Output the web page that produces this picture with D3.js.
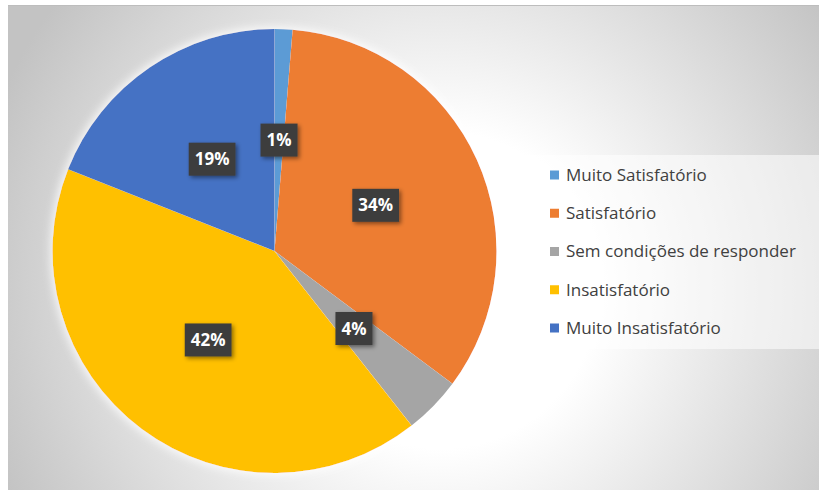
<!DOCTYPE html>
<html>
<head>
<meta charset="utf-8">
<script src="https://cdn.jsdelivr.net/npm/d3@7/dist/d3.min.js"></script>
<style>
  html, body { margin: 0; padding: 0; background: #ffffff; }
  svg { display: block; }
</style>
</head>
<body>
<svg id="chart" width="819" height="490"></svg>
<script>
// Survey answers: share of respondents per category (%)
const categories = [
  "Muito Satisfatório",
  "Satisfatório",
  "Sem condições de responder",
  "Insatisfatório",
  "Muito Insatisfatório"
];
const values = [1.3, 33.9, 4.2, 41.6, 19.0];
const colors = ["#5B9BD5", "#ED7D31", "#A5A5A5", "#FFC000", "#4472C4"];

const W = 819, H = 490;
const svg = d3.select("#chart");
const defs = svg.append("defs");

// Chart area background: soft radial grey gradient
const grad = defs.append("radialGradient")
  .attr("id", "bg").attr("gradientUnits", "userSpaceOnUse")
  .attr("cx", 440).attr("cy", 290).attr("r", 480);
grad.append("stop").attr("offset", "0").attr("stop-color", "#ffffff");
grad.append("stop").attr("offset", "0.33").attr("stop-color", "#ffffff");
grad.append("stop").attr("offset", "1").attr("stop-color", "#c3c3c3");

// Glow around the pie
const glow = defs.append("filter").attr("id", "glow")
  .attr("x", "-10%").attr("y", "-10%").attr("width", "120%").attr("height", "120%");
glow.append("feMorphology").attr("in", "SourceAlpha").attr("operator", "dilate").attr("radius", 2).attr("result", "d");
glow.append("feGaussianBlur").attr("in", "d").attr("stdDeviation", 4).attr("result", "b");
glow.append("feFlood").attr("flood-color", "#ffffff").attr("flood-opacity", 0.8);
glow.append("feComposite").attr("in2", "b").attr("operator", "in").attr("result", "g");
const gm = glow.append("feMerge");
gm.append("feMergeNode").attr("in", "g");
gm.append("feMergeNode").attr("in", "SourceGraphic");

// Shadow for label boxes
const sh = defs.append("filter").attr("id", "shadow")
  .attr("x", "-30%").attr("y", "-30%").attr("width", "170%").attr("height", "170%");
sh.append("feDropShadow").attr("dx", 2).attr("dy", 2).attr("stdDeviation", 2)
  .attr("flood-color", "#000000").attr("flood-opacity", 0.45);

svg.append("rect")
  .attr("x", 8).attr("y", 5).attr("width", W - 8).attr("height", H - 5)
  .attr("fill", "url(#bg)");
svg.append("line")
  .attr("x1", 8).attr("x2", W).attr("y1", 5.5).attr("y2", 5.5)
  .attr("stroke", "#bdbdbd").attr("stroke-width", 1);

// Pie
const cx = 274.5, cy = 251, R = 222;
const pie = d3.pie().sort(null).value(d => d)(values);
const arc = d3.arc().innerRadius(0).outerRadius(R);
const labelArc = d3.arc().innerRadius(R * 0.5).outerRadius(R * 0.5);
const color = d3.scaleOrdinal().domain(categories).range(colors);

const g = svg.append("g").attr("transform", `translate(${cx},${cy})`);
g.append("g").attr("filter", "url(#glow)")
  .selectAll("path").data(pie).join("path")
  .attr("d", arc)
  .attr("fill", (d, i) => color(categories[i]));

// Data labels in dark boxes
const fmt = v => Math.round(v) + "%";
const labels = g.selectAll("g.lbl").data(pie).join("g")
  .attr("class", "lbl")
  .attr("transform", d => `translate(${labelArc.centroid(d)})`);
labels.each(function(d) {
  const gl = d3.select(this);
  const t = gl.append("text")
    .attr("text-anchor", "middle")
    .attr("dy", "0.36em")
    .attr("fill", "#ffffff")
    .attr("font-family", "'Open Sans', 'Noto Sans', sans-serif")
    .attr("font-weight", "bold")
    .attr("font-size", 17)
    .text(fmt(d.data));
  const bb = t.node().getBBox();
  gl.insert("rect", "text")
    .attr("x", -bb.width / 2 - 6).attr("y", -16.5)
    .attr("width", bb.width + 12).attr("height", 33)
    .attr("fill", "#3d3d3d")
    .attr("filter", "url(#shadow)");
});

// Legend
const legend = svg.append("g");
legend.append("rect")
  .attr("x", 527).attr("y", 155).attr("width", W - 527).attr("height", 194)
  .attr("fill", "#ffffff").attr("fill-opacity", 0.55);
const rowY = d3.scalePoint().domain(categories).range([175, 328]);
const items = legend.selectAll("g.item").data(categories).join("g")
  .attr("class", "item")
  .attr("transform", d => `translate(550,${rowY(d)})`);
items.append("rect")
  .attr("x", 0).attr("y", -4.5).attr("width", 9).attr("height", 9)
  .attr("fill", d => color(d));
items.append("text")
  .attr("x", 16).attr("dy", "0.35em")
  .attr("fill", "#404040")
  .attr("font-family", "'Open Sans', 'Noto Sans', sans-serif")
  .attr("font-size", 17)
  .text(d => d);
</script>
</body>
</html>
